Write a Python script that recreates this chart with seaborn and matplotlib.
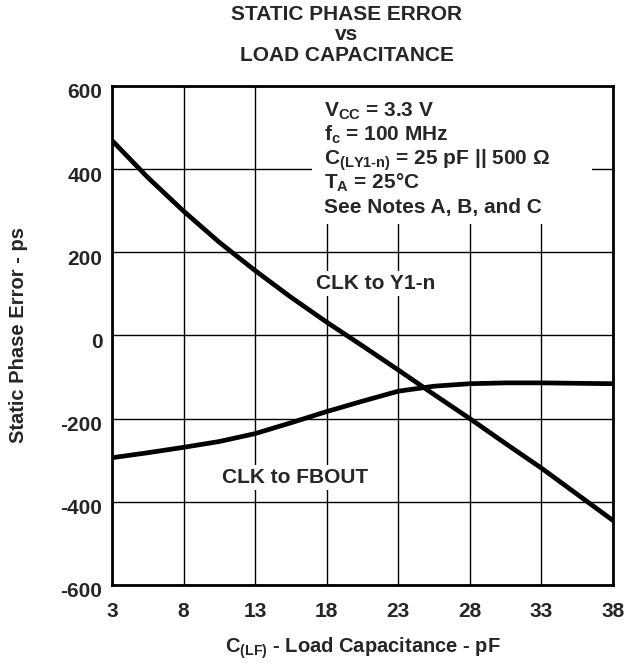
import numpy as np
import pandas as pd
import matplotlib
matplotlib.use("Agg")
import matplotlib.pyplot as plt
import matplotlib.transforms as mtransforms
from matplotlib.patches import Rectangle
import seaborn as sns

sns.set_style("white")
plt.rcParams['font.family'] = ['Liberation Sans', 'DejaVu Sans']
plt.rcParams['font.weight'] = 'bold'
plt.rcParams['axes.labelweight'] = 'bold'
plt.rcParams['mathtext.fontset'] = 'custom'
plt.rcParams['mathtext.rm'] = 'Liberation Sans:bold'
plt.rcParams['mathtext.it'] = 'Liberation Sans:bold'
plt.rcParams['mathtext.bf'] = 'Liberation Sans:bold'
plt.rcParams['mathtext.default'] = 'rm'

# ---------------- DATA ----------------
load_cap = [3, 5.5, 8, 10.5, 13, 15.5, 18, 20.5, 23, 25.5, 28, 30.5, 33, 35.5, 38]
clk_to_y1n = [469, 380, 299, 224, 156, 92, 32, -25, -83, -142, -200, -260, -319, -382, -445]
clk_to_fbout = [-294, -282, -269, -255, -236, -210, -183, -158, -134, -122, -116, -114, -114, -115, -116]

x_ticks = [3, 8, 13, 18, 23, 28, 33, 38]
y_ticks = [-600, -400, -200, 0, 200, 400, 600]

notes = [
    r'$V_{CC}$ = 3.3 V',
    r'$f_{c}$ = 100 MHz',
    r'$C_{(LY1\text{-}n)}$ = 25 pF || 500 Ω',
    r'$T_{A}$ = 25°C',
    'See Notes A, B, and C',
]

df = pd.DataFrame({'cap': load_cap, 'y1n': clk_to_y1n, 'fbout': clk_to_fbout})

# ---------------- FIGURE ----------------
fig = plt.figure(figsize=(6.25, 6.68), dpi=100)
ax = fig.add_axes([0.1792, 0.1243, 0.8016, 0.747])

sns.lineplot(data=df, x='cap', y='y1n', color='black', lw=3.4, ax=ax, zorder=3)
sns.lineplot(data=df, x='cap', y='fbout', color='black', lw=3.4, ax=ax, zorder=3)

ax.set_xlim(3, 38)
ax.set_ylim(-600, 600)
ax.set_xticks(x_ticks)
ax.set_yticks(y_ticks)
ax.set_xticklabels([str(t) for t in x_ticks])
ax.set_yticklabels([str(t) for t in y_ticks])

ax.grid(True, color='black', lw=1)
ax.set_axisbelow(True)
for s in ax.spines.values():
    s.set_color('black')
    s.set_linewidth(2)
    s.set_visible(True)

ax.tick_params(axis='both', length=0, labelsize=15)
ax.tick_params(axis='x', pad=12)
ax.tick_params(axis='y', pad=7)

# y labels sit a little below their grid line in the original
off = mtransforms.ScaledTranslation(0, -5 / 100, fig.dpi_scale_trans)
for lab in ax.get_yticklabels():
    lab.set_transform(lab.get_transform() + off)

# white box behind the test conditions
ax.add_patch(Rectangle((17, 268), 19.5, 332, fc='white', ec='none', zorder=1))
note_y = [527, 469, 411, 353, 295]
for txt, yy in zip(notes, note_y):
    ax.text(17.8, yy, txt, fontsize=15, va='baseline', ha='left', zorder=4)

ax.text(21.4, 125, 'CLK to Y1-n', fontsize=15, ha='center', va='center', zorder=4,
        bbox=dict(fc='white', ec='none', pad=2))
ax.text(15.8, -342, 'CLK to FBOUT', fontsize=15, ha='center', va='center', zorder=4,
        bbox=dict(fc='white', ec='none', pad=2))

ax.set_xlabel(r'$C_{(LF)}$ - Load Capacitance - pF', fontsize=14.5, fontweight='bold', labelpad=11)
ax.set_ylabel('Static Phase Error - ps', fontsize=14.5, fontweight='bold')
ax.yaxis.set_label_coords(-0.168, 0.5)

fig.text(0.555, 0.993, 'STATIC PHASE ERROR\nvs\nLOAD CAPACITANCE',
         ha='center', va='top', fontsize=15, fontweight='bold', linespacing=1.12)

fig.savefig('out.png', dpi=100)
